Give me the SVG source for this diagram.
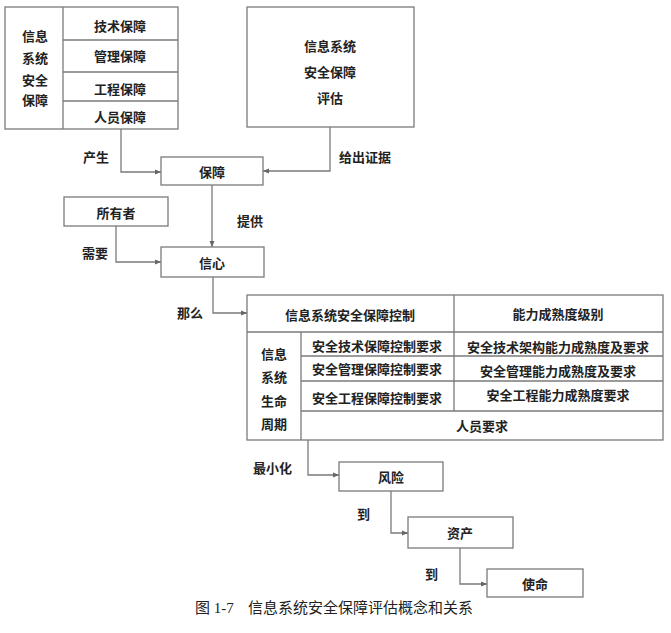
<svg xmlns="http://www.w3.org/2000/svg" width="671" height="633" viewBox="0 0 671 633">
<defs>
<marker id="arr" markerWidth="6" markerHeight="6" refX="6" refY="3" orient="auto" markerUnits="userSpaceOnUse">
<path d="M0,0.5 L6,3 L0,5.5 z" fill="#666"/>
</marker>
<style>
.box{fill:#fff;stroke:#7a7a7a;stroke-width:1.3}
.ln{fill:none;stroke:#7a7a7a;stroke-width:1.3}
.t{font-family:"Noto Sans CJK SC","Noto Sans CJK JP",sans-serif;font-size:13px;font-weight:bold;fill:#222;text-anchor:middle;dominant-baseline:central}
.lb{font-family:"Noto Sans CJK SC","Noto Sans CJK JP",sans-serif;font-size:13px;font-weight:bold;fill:#222;dominant-baseline:central}
.cap{font-family:"Liberation Serif","Noto Sans CJK SC",serif;font-size:15px;fill:#222;dominant-baseline:central}
</style>
</defs>
<rect width="671" height="633" fill="#fff"/>

<g id="connectors">
<path class="ln" d="M121,129 V172 H161" marker-end="url(#arr)"/>
<path class="ln" d="M330,127 V171 H263" marker-end="url(#arr)"/>
<path class="ln" d="M212,185 V247" marker-end="url(#arr)"/>
<path class="ln" d="M116,226 V262 H161" marker-end="url(#arr)"/>
<path class="ln" d="M213,277 V313 H247" marker-end="url(#arr)"/>
<path class="ln" d="M308,440 V475 H339" marker-end="url(#arr)"/>
<path class="ln" d="M391,491 V533 H408" marker-end="url(#arr)"/>
<path class="ln" d="M460,548 V584 H487" marker-end="url(#arr)"/>
<text class="lb" x="83" y="156">产生</text>
<text class="lb" x="339" y="156">给出证据</text>
<text class="lb" x="237" y="220">提供</text>
<text class="lb" x="82" y="252">需要</text>
<text class="lb" x="177" y="312">那么</text>
<text class="lb" x="253" y="467">最小化</text>
<text class="lb" x="357" y="513">到</text>
<text class="lb" x="425" y="573">到</text>
</g>

<g id="assurance-types">
<rect class="box" x="5" y="7" width="173" height="122"/>
<line class="ln" x1="63" y1="7" x2="63" y2="129"/>
<line class="ln" x1="63" y1="40" x2="178" y2="40"/>
<line class="ln" x1="63" y1="72" x2="178" y2="72"/>
<line class="ln" x1="63" y1="101" x2="178" y2="101"/>
<text class="t" x="35" y="35">信息</text>
<text class="t" x="35" y="57">系统</text>
<text class="t" x="35" y="79">安全</text>
<text class="t" x="35" y="99">保障</text>
<text class="t" x="120" y="25">技术保障</text>
<text class="t" x="120" y="55">管理保障</text>
<text class="t" x="120" y="88">工程保障</text>
<text class="t" x="120" y="116">人员保障</text>
</g>

<g id="evaluation">
<rect class="box" x="247" y="7" width="167" height="120"/>
<text class="t" x="330" y="45">信息系统</text>
<text class="t" x="330" y="71">安全保障</text>
<text class="t" x="330" y="97">评估</text>
</g>

<g id="assurance">
<rect class="box" x="161" y="157" width="102" height="28"/>
<text class="t" x="212" y="171">保障</text>
</g>

<g id="owner">
<rect class="box" x="64" y="197" width="104" height="29"/>
<text class="t" x="116" y="212">所有者</text>
</g>

<g id="confidence">
<rect class="box" x="161" y="247" width="103" height="30"/>
<text class="t" x="212" y="262">信心</text>
</g>

<g id="control-table">
<rect class="box" x="247" y="295" width="416" height="145"/>
<line class="ln" x1="247" y1="332" x2="663" y2="332"/>
<line class="ln" x1="454" y1="295" x2="454" y2="411"/>
<line class="ln" x1="301" y1="332" x2="301" y2="440"/>
<line class="ln" x1="301" y1="356" x2="663" y2="356"/>
<line class="ln" x1="301" y1="381" x2="663" y2="381"/>
<line class="ln" x1="301" y1="411" x2="663" y2="411"/>
<text class="t" x="350" y="314">信息系统安全保障控制</text>
<text class="t" x="558" y="313">能力成熟度级别</text>
<text class="t" x="274" y="353">信息</text>
<text class="t" x="274" y="376">系统</text>
<text class="t" x="274" y="400">生命</text>
<text class="t" x="274" y="423">周期</text>
<text class="t" x="377" y="345">安全技术保障控制要求</text>
<text class="t" x="558" y="346">安全技术架构能力成熟度及要求</text>
<text class="t" x="377" y="368">安全管理保障控制要求</text>
<text class="t" x="558" y="370">安全管理能力成熟度及要求</text>
<text class="t" x="377" y="397">安全工程保障控制要求</text>
<text class="t" x="558" y="394">安全工程能力成熟度要求</text>
<text class="t" x="482" y="425">人员要求</text>
</g>

<g id="risk">
<rect class="box" x="339" y="462" width="104" height="29"/>
<text class="t" x="391" y="476">风险</text>
</g>

<g id="asset">
<rect class="box" x="408" y="517" width="105" height="31"/>
<text class="t" x="460" y="532">资产</text>
</g>

<g id="mission">
<rect class="box" x="487" y="569" width="96" height="28"/>
<text class="t" x="535" y="583">使命</text>
</g>

<text class="cap" x="195" y="608">图 1-7<tspan x="248">信息系统安全保障评估概念和关系</tspan></text>
</svg>
